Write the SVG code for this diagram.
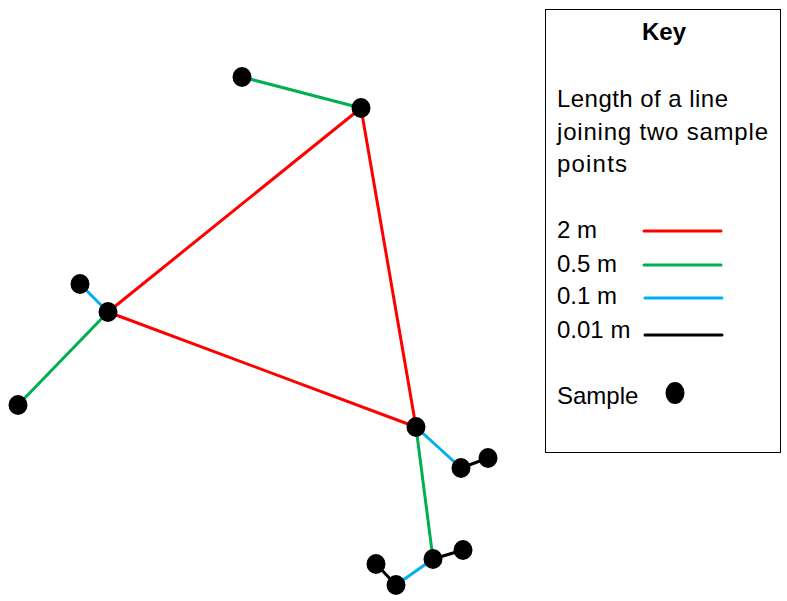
<svg xmlns="http://www.w3.org/2000/svg" width="787" height="601" viewBox="0 0 787 601">
<style>
.e{stroke-width:3;fill:none;stroke-linecap:round}
.r{stroke:#FF0000}
.g{stroke:#00B050}
.b{stroke:#00B0F0}
.k{stroke:#000000}
.n{fill:#000000}
.t{font-family:"Liberation Sans",Arial,sans-serif;font-size:24px;fill:#000}
</style>
<rect width="787" height="601" fill="#fff"/>
<g id="connectors">
<line class="e r" x1="361" y1="108" x2="108" y2="312"/>
<line class="e r" x1="361" y1="108" x2="416" y2="427"/>
<line class="e r" x1="108" y1="312" x2="416" y2="427"/>
<line class="e g" x1="242" y1="77" x2="361" y2="108"/>
<line class="e g" x1="108" y1="312" x2="18" y2="405"/>
<line class="e g" x1="416" y1="427" x2="433" y2="559"/>
<line class="e b" x1="80" y1="284" x2="108" y2="312"/>
<line class="e b" x1="416" y1="427" x2="461" y2="468"/>
<line class="e b" x1="433" y1="559" x2="396" y2="585"/>
<line class="e k" x1="461" y1="468" x2="488" y2="458"/>
<line class="e k" x1="433" y1="559" x2="463" y2="550"/>
<line class="e k" x1="376" y1="564" x2="396" y2="585"/>
</g>
<g id="n1"><ellipse class="n" cx="242" cy="77" rx="9.5" ry="10"/></g>
<g id="n2"><ellipse class="n" cx="361" cy="108" rx="9.5" ry="10"/></g>
<g id="n3"><ellipse class="n" cx="80" cy="284" rx="9.5" ry="10"/></g>
<g id="n4"><ellipse class="n" cx="108" cy="312" rx="9.5" ry="10"/></g>
<g id="n5"><ellipse class="n" cx="18" cy="405" rx="9.5" ry="10"/></g>
<g id="n6"><ellipse class="n" cx="416" cy="427" rx="9.5" ry="10"/></g>
<g id="n7"><ellipse class="n" cx="461" cy="468" rx="9.5" ry="10"/></g>
<g id="n8"><ellipse class="n" cx="488" cy="458" rx="9.5" ry="10"/></g>
<g id="n9"><ellipse class="n" cx="433" cy="559" rx="9.5" ry="10"/></g>
<g id="n10"><ellipse class="n" cx="463" cy="550" rx="9.5" ry="10"/></g>
<g id="n11"><ellipse class="n" cx="376" cy="564" rx="9.5" ry="10"/></g>
<g id="n12"><ellipse class="n" cx="396" cy="585" rx="9.5" ry="10"/></g>
<g id="key">
<rect x="545.5" y="9.5" width="235" height="443" fill="#fff" stroke="#000" stroke-width="1"/>
<text class="t" x="664" y="40" text-anchor="middle" font-weight="bold" font-size="22">Key</text>
<text class="t" x="557" y="107" font-size="26" textLength="171">Length of a line</text>
<text class="t" x="557" y="140" font-size="26" textLength="211">joining two sample</text>
<text class="t" x="557" y="172" font-size="26" textLength="70">points</text>
<text class="t" x="557" y="238">2 m</text>
<text class="t" x="557" y="272">0.5 m</text>
<text class="t" x="557" y="304">0.1 m</text>
<text class="t" x="557" y="338">0.01 m</text>
<text class="t" x="557" y="404">Sample</text>
<line class="e r" x1="644" y1="231" x2="721" y2="231" stroke-linecap="butt"/>
<line class="e g" x1="644" y1="265" x2="721" y2="265" stroke-linecap="butt"/>
<line class="e b" x1="645" y1="298" x2="722" y2="298" stroke-linecap="butt"/>
<line class="e k" x1="645" y1="335" x2="722" y2="335" stroke-linecap="butt"/>
<ellipse class="n" cx="675" cy="393" rx="9.5" ry="11"/>
</g>
</svg>
